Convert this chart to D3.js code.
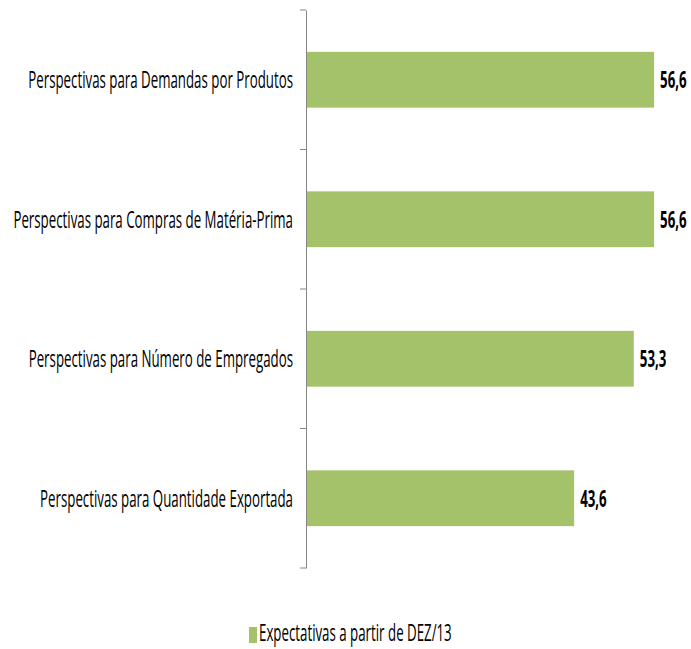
<!DOCTYPE html>
<html>
<head>
<meta charset="utf-8">
<script src="https://cdn.jsdelivr.net/npm/d3@7"></script>
<style>
  body { margin: 0; background: #fff; }
  svg text { font-family: "Open Sans", "Liberation Sans", sans-serif; fill: #000; }
</style>
</head>
<body>
<div id="container"></div>
<script>
/* DATA */
const categories = [
  "Perspectivas para Demandas por Produtos",
  "Perspectivas para Compras de Matéria-Prima",
  "Perspectivas para Número de Empregados",
  "Perspectivas para Quantidade Exportada"
];
const values = [56.6, 56.6, 53.3, 43.6];
const seriesName = "Expectativas a partir de DEZ/13";

/* CONSTANTS */
const width = 691, height = 649;
const axisX = 306;
const fontSize = 23;
const barColor = "#a4c26a";

const svg = d3.select("#container")
  .append("svg")
  .attr("width", width)
  .attr("height", height);

// squeeze text horizontally to get the narrow look of the original font:
// the first label should be about 265px wide
const probe = svg.append("text").attr("font-size", fontSize).text(categories[0]);
const squeeze = 265 / probe.node().getComputedTextLength();
probe.remove();

const xScale = d3.scaleLinear()
  .domain([0, 60])
  .range([axisX, 675]);

const yScale = d3.scaleBand()
  .domain(categories)
  .range([10, 568])
  .paddingInner(0.6)
  .paddingOuter(0.3);

// bars
svg.selectAll("rect.bar")
  .data(categories)
  .join("rect")
  .attr("class", "bar")
  .attr("x", xScale(0))
  .attr("y", d => yScale(d))
  .attr("width", (d, i) => xScale(values[i]) - xScale(0))
  .attr("height", yScale.bandwidth())
  .attr("fill", barColor);

// axis: vertical line with ticks between categories
const yAxis = d3.axisLeft(yScale).tickSize(0).tickFormat("");
const axisG = svg.append("g")
  .attr("transform", `translate(${axisX},0)`)
  .call(yAxis);
axisG.select(".domain").attr("stroke", "#868686");

const step = yScale.step();
const boundaries = d3.range(categories.length + 1).map(i => 10 + i * step);
axisG.selectAll("line.sep")
  .data(boundaries)
  .join("line")
  .attr("class", "sep")
  .attr("x1", -6).attr("x2", 0)
  .attr("y1", d => d).attr("y2", d => d)
  .attr("stroke", "#868686");

// category labels
svg.selectAll("text.cat")
  .data(categories)
  .join("text")
  .attr("class", "cat")
  .attr("text-anchor", "end")
  .attr("font-size", fontSize)
  .attr("transform", d => `translate(${axisX - 13},${yScale(d) + yScale.bandwidth() / 2 + 8.5}) scale(${squeeze},1)`)
  .text(d => d);

// value labels
svg.selectAll("text.val")
  .data(categories)
  .join("text")
  .attr("class", "val")
  .attr("font-size", fontSize)
  .attr("font-weight", "bold")
  .attr("transform", (d, i) => `translate(${xScale(values[i]) + 6},${yScale(d) + yScale.bandwidth() / 2 + 8.5}) scale(${squeeze},1)`)
  .text((d, i) => d3.format(".1f")(values[i]).replace(".", ","));

// legend
const legend = svg.append("g");
legend.append("rect")
  .attr("x", 249).attr("y", 627)
  .attr("width", 8).attr("height", 16)
  .attr("fill", barColor);
legend.append("text")
  .attr("font-size", fontSize)
  .attr("transform", `translate(259,641) scale(${squeeze},1)`)
  .text(seriesName);
</script>
</body>
</html>
